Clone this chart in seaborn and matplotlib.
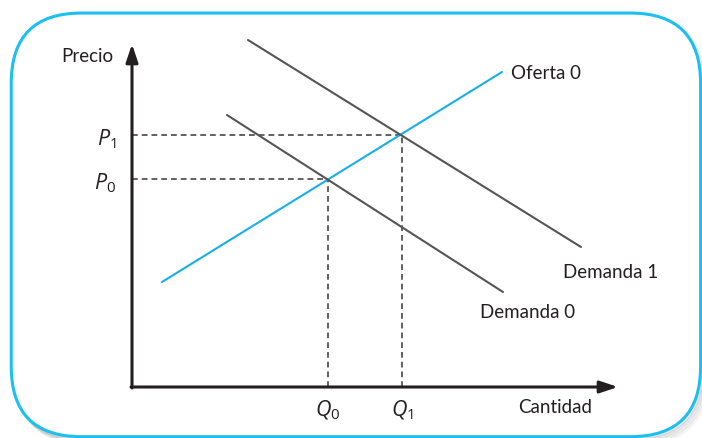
import matplotlib
matplotlib.use("Agg")
import matplotlib.pyplot as plt
import seaborn as sns
import pandas as pd
from matplotlib.patches import FancyBboxPatch

# ---- data (abstract units: quantity, price) ----
supply_q = [3.0, 37.0]
supply_p = [10.5, 31.5]
demand0_q = [9.5, 37.1]
demand0_p = [27.2, 9.5]
demand1_q = [11.6, 44.9]
demand1_p = [34.7, 14.0]
q_eq = [19.6, 27.0]          # Q0, Q1
p_eq = [20.8, 25.2]          # P0, P1
q_labels = ["$Q_0$", "$Q_1$"]
p_labels = ["$P_0$", "$P_1$"]
axis_max_q = 48.6
axis_max_p = 34.3

sns.set_theme(style="white")
plt.rcParams['font.family'] = ['Lato', 'DejaVu Sans']
plt.rcParams['mathtext.fontset'] = 'custom'
plt.rcParams['mathtext.rm'] = 'Open Sans'
plt.rcParams['mathtext.it'] = 'Open Sans:italic'

fig = plt.figure(figsize=(7.02, 4.39), dpi=100)
ax = fig.add_axes([0, 0, 1, 1])
ax.set_xlim(-13.2, 57.0)
ax.set_ylim(-5.1, 38.8)
ax.axis("off")
ax.patch.set_alpha(0)

# rounded frame with shadow
for i, a in enumerate([0.05, 0.07, 0.09, 0.12]):
    off = (4 - i) * 0.0025
    sh = FancyBboxPatch((0.016 + off, 0.0 - off * 1.6 + 0.003), 0.982, 0.965,
                        boxstyle="round,pad=0,rounding_size=0.1",
                        transform=fig.transFigure, facecolor="none",
                        edgecolor=(0.3, 0.3, 0.3, a), linewidth=3, zorder=-3,
                        mutation_aspect=702 / 439)
    fig.patches.append(sh)
frame = FancyBboxPatch((0.016, 0.003), 0.982, 0.965,
                       boxstyle="round,pad=0,rounding_size=0.1",
                       transform=fig.transFigure, facecolor="white",
                       edgecolor="#1cc0f0", linewidth=2.2, zorder=-2,
                       mutation_aspect=702 / 439)
fig.patches.append(frame)

lines = pd.DataFrame({
    "q": supply_q + demand0_q + demand1_q,
    "p": supply_p + demand0_p + demand1_p,
    "curve": ["Oferta 0"] * 2 + ["Demanda 0"] * 2 + ["Demanda 1"] * 2,
})
sns.lineplot(data=lines, x="q", y="p", hue="curve", sort=False,
             palette={"Oferta 0": "#1aaee8", "Demanda 0": "#555555", "Demanda 1": "#555555"},
             linewidth=1.5, legend=False, ax=ax, zorder=4)

# dashed guides
dash = dict(color="#555555", linewidth=1.3, linestyle=(0, (3.2, 2.2)), zorder=3)
for q, p in zip(q_eq, p_eq):
    ax.plot([0, q], [p, p], **dash)
    ax.plot([q, q], [0, p], **dash)

# axes with arrows
arrow = dict(arrowstyle="-|>,head_length=0.9,head_width=0.3", color="#231f20",
             linewidth=2.2, shrinkA=0, shrinkB=0)
ax.annotate("", xy=(axis_max_q, 0), xytext=(-0.1, 0), arrowprops=arrow, zorder=5)
ax.annotate("", xy=(0, axis_max_p), xytext=(0, -0.1), arrowprops=arrow, zorder=5)

txt = dict(fontsize=13.5, color="#231f20")
mtxt = dict(fontsize=15.5, color="#231f20")
for q, lab in zip(q_eq, q_labels):
    ax.text(q, -2.2, lab, ha="center", va="center", **mtxt)
for p, lab in zip(p_eq, p_labels):
    ax.text(-1.6, p - 0.3, lab, ha="right", va="center", **mtxt)
ax.text(-1.9, 33.1, "Precio", ha="right", va="center", **txt)
ax.text(38.6, -2.0, "Cantidad", ha="left", va="center", **txt)
ax.text(37.9, 31.4, "Oferta 0", ha="left", va="center", **txt)
ax.text(43.1, 11.5, "Demanda 1", ha="left", va="center", **txt)
ax.text(34.8, 7.5, "Demanda 0", ha="left", va="center", **txt)

fig.savefig("out.png", dpi=100)
